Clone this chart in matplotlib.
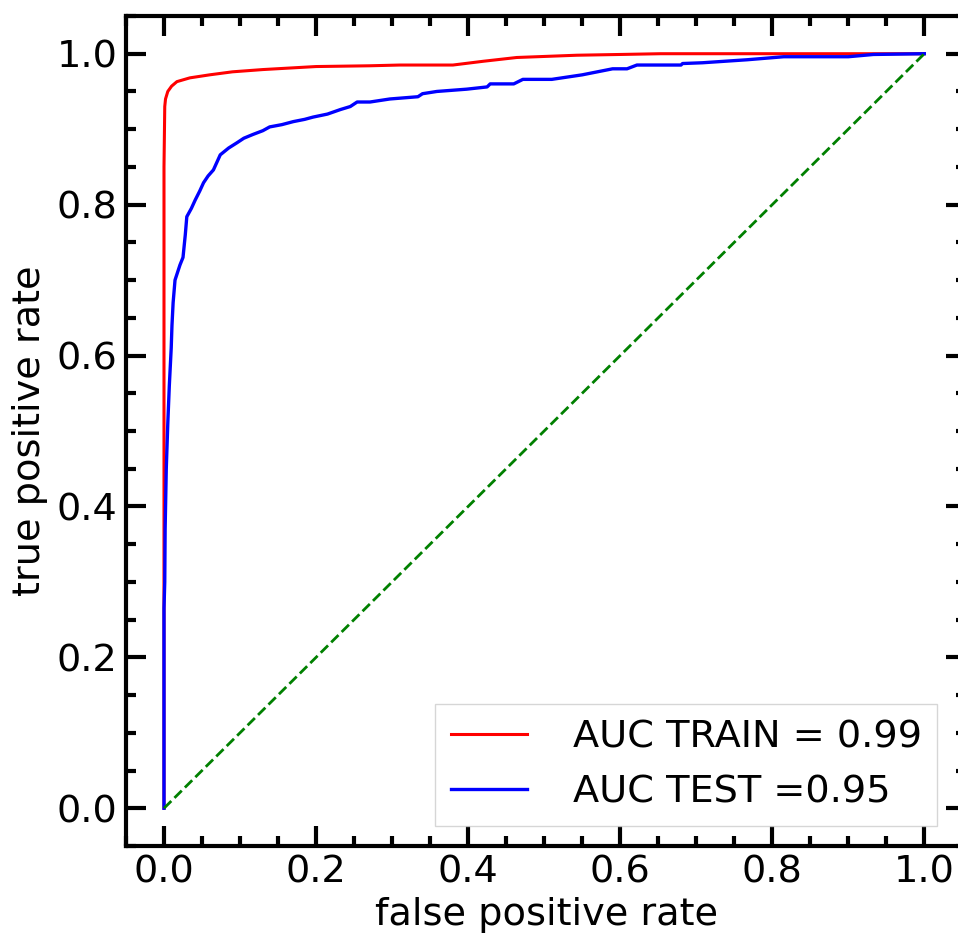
import matplotlib
matplotlib.use("Agg")
import matplotlib.pyplot as plt
from matplotlib.ticker import MultipleLocator

# ROC points
fpr_train = [0.0, 0.0, 0.001, 0.002, 0.005, 0.010, 0.017, 0.034, 0.06, 0.09, 0.13, 0.2, 0.27,
             0.31, 0.38, 0.42, 0.464, 0.543, 0.6, 0.653, 0.75, 1.0]
tpr_train = [0.0, 0.85, 0.93, 0.940, 0.950, 0.957, 0.963, 0.968, 0.972, 0.976, 0.979, 0.983, 0.984,
             0.985, 0.985, 0.99, 0.995, 0.998, 0.999, 1.0, 1.0, 1.0]

fpr_test = [0.0, 0.0, 0.001, 0.0015, 0.003, 0.005, 0.007, 0.008, 0.0095, 0.0105, 0.012, 0.0145,
            0.021, 0.025, 0.028, 0.03, 0.036, 0.041, 0.047, 0.052, 0.058, 0.065, 0.074, 0.085,
            0.096, 0.105, 0.117, 0.13, 0.139, 0.155, 0.17, 0.185, 0.196, 0.215, 0.232, 0.245,
            0.254, 0.271, 0.297, 0.334, 0.34, 0.359, 0.398, 0.425, 0.429, 0.46, 0.472, 0.51,
            0.55, 0.59, 0.609, 0.622, 0.653, 0.68, 0.682, 0.708, 0.767, 0.815, 0.9, 0.933, 1.0]
tpr_test = [0.0, 0.265, 0.30, 0.37, 0.45, 0.51, 0.56, 0.58, 0.61, 0.64, 0.67, 0.70,
            0.72, 0.73, 0.76, 0.784, 0.795, 0.806, 0.818, 0.829, 0.838, 0.846, 0.866, 0.875,
            0.882, 0.888, 0.893, 0.898, 0.903, 0.906, 0.91, 0.913, 0.916, 0.92, 0.926, 0.93,
            0.936, 0.936, 0.940, 0.943, 0.947, 0.95, 0.953, 0.956, 0.96, 0.96, 0.966, 0.966,
            0.972, 0.980, 0.980, 0.985, 0.985, 0.985, 0.987, 0.988, 0.992, 0.996, 0.996, 0.999, 1.0]

auc_train = 0.99
auc_test = 0.95

plt.rcParams['font.size'] = 27.5

fig = plt.figure(figsize=(9.58, 9.35), dpi=100)
ax = fig.add_axes([0.1315, 0.0952, 0.877, 0.8877])

ax.plot(fpr_train, tpr_train, color='red', lw=2.2, label='AUC TRAIN = %.2f' % auc_train)
ax.plot(fpr_test, tpr_test, color='blue', lw=2.4, label='AUC TEST =%.2f' % auc_test)
ax.plot([0, 1], [0, 1], color='green', lw=2, ls='--')

ax.set_xlim(-0.05, 1.055)
ax.set_ylim(-0.05, 1.05)
ax.xaxis.set_major_locator(MultipleLocator(0.2))
ax.yaxis.set_major_locator(MultipleLocator(0.2))
ax.xaxis.set_minor_locator(MultipleLocator(0.05))
ax.yaxis.set_minor_locator(MultipleLocator(0.05))
ax.tick_params(which='both', direction='in', top=True, right=True, width=3, pad=6)
ax.tick_params(which='major', length=14.5)
ax.tick_params(which='minor', length=7.5)
for s in ax.spines.values():
    s.set_linewidth(3)

ax.set_xlabel('false positive rate', labelpad=5)
ax.set_ylabel('true positive rate', labelpad=6)
ax.legend(loc='lower right', bbox_to_anchor=(0.9655, 0.024), borderaxespad=0,
          fancybox=False, handletextpad=1.2)

fig.savefig('out.png', dpi=100)
